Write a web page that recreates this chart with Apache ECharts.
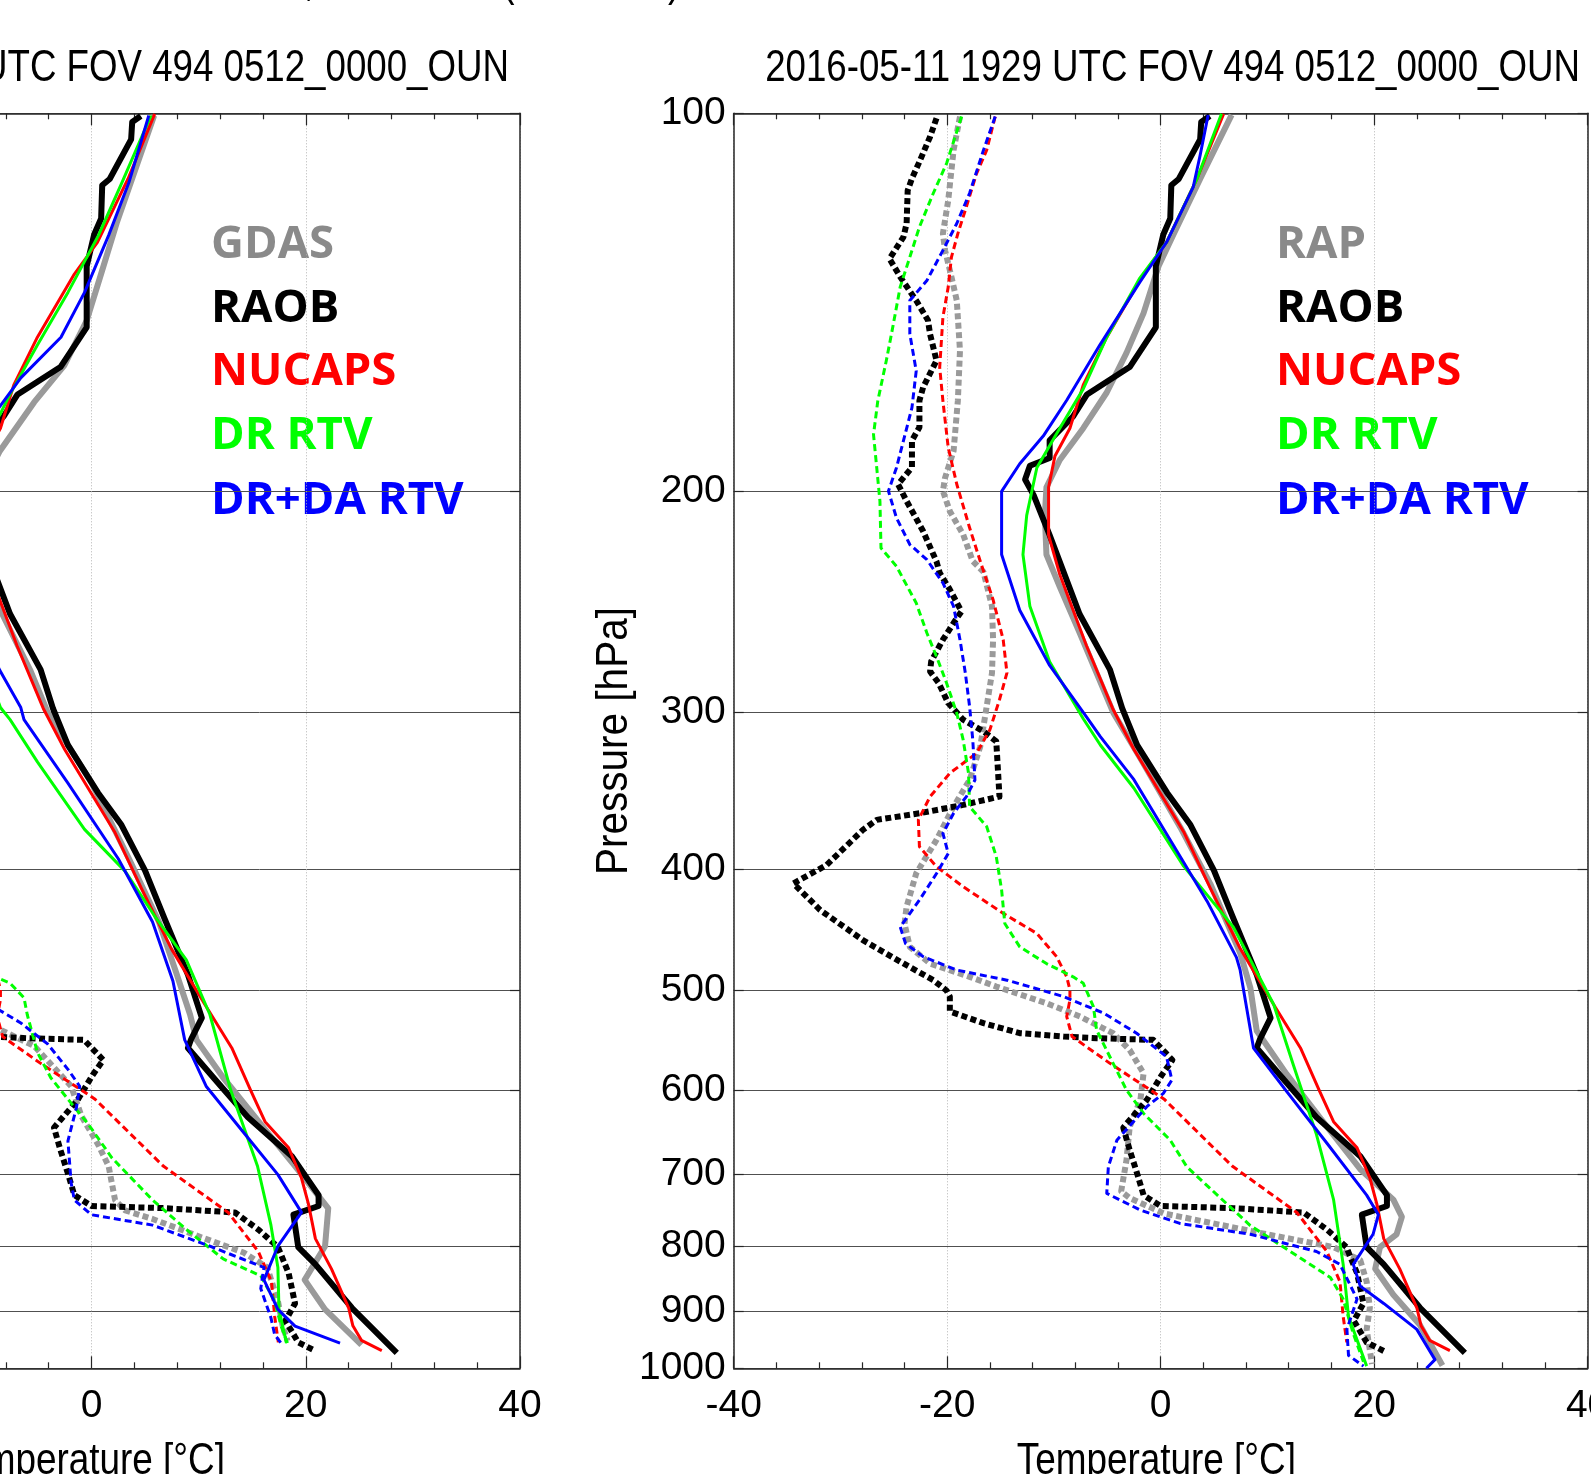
<!DOCTYPE html>
<html><head><meta charset="utf-8">
<script src="https://cdn.jsdelivr.net/npm/echarts@6/dist/echarts.min.js"></script>
<style>html,body{margin:0;padding:0;background:#fff;overflow:hidden}#c{width:1591px;height:1474px}</style>
</head><body><div id="c"></div>
<script>
// ---------- tick labels ----------
const P_TICKS = [100, 200, 300, 400, 500, 600, 700, 800, 900, 1000];
const T_MIN = -40, T_MAX = 40, T_STEP = 20;

// ---------- text ----------
const PANEL_TITLE = '2016-05-11 1929 UTC FOV 494 0512_0000_OUN';
const FIG_TITLE = 'Norman, Oklahoma (NUCAPS)';
const X_NAME = 'Temperature [°C]';
const Y_NAME = 'Pressure [hPa]';
const LEGEND_LEFT = ['GDAS', 'RAOB', 'NUCAPS', 'DR RTV', 'DR+DA RTV'];
const LEGEND_RIGHT = ['RAP', 'RAOB', 'NUCAPS', 'DR RTV', 'DR+DA RTV'];

// ---------- profiles: [temperature degC, pressure hPa] ----------
const RAOB_T = [[4.6,100.5],[3.8,101.6],[3.7,104.9],[1.7,112.8],[1.0,114.1],[0.9,121.3],[0.25,124.9],[-0.45,132.4],[-0.45,148.1],[-2.9,159.3],[-6.9,167.5],[-8.2,174.4],[-10.4,182.2],[-10.4,188.2],[-12.25,190.9],[-12.7,195.8],[-11.9,201.5],[-10.4,216.8],[-7.6,250.6],[-4.75,277.5],[-3.6,298],[-2.2,318.7],[0.6,347.8],[2.8,369.1],[5.0,401.2],[6.8,437.9],[9.0,485.6],[10.3,525.7],[9.3,546.8],[9.0,555.6],[11.8,592.2],[14.6,630.9],[18.7,677.6],[21.2,727.8],[21.2,742.5],[18.85,754.4],[19.3,800.6],[20.9,826.4],[24.3,894.9],[28.5,972]];
const RAOB_TD = [[-21,100.9],[-21.6,104.4],[-22.6,109.3],[-23.3,112.7],[-23.7,115.2],[-23.8,122.4],[-24.1,125.5],[-25.4,130.6],[-24.4,135],[-22.9,141],[-21.8,146.2],[-21.6,150],[-21.0,157.4],[-22.25,165.3],[-22.6,169.4],[-22.6,177.9],[-23.3,182.3],[-23.3,191.5],[-24.6,197.5],[-23.8,203.7],[-22.25,215.3],[-21.0,227.6],[-20.7,232.4],[-19.75,239.6],[-18.66,249.4],[-19.3,254],[-20.4,262.7],[-21.5,273.4],[-21.6,278.5],[-20.8,284.4],[-19.9,295.1],[-18.5,304.2],[-16.6,310.8],[-15.4,316.6],[-15.1,350.3],[-18.5,355.7],[-22.6,361.2],[-26.6,365.6],[-27.9,372.4],[-31.3,397.2],[-34.4,410.8],[-31.9,431.4],[-27.9,455.8],[-24.1,475.8],[-21.3,490.6],[-20.06,500],[-19.75,505.6],[-19.75,519.6],[-16.6,530.9],[-13.2,540.7],[-9.1,544.1],[-6.0,545.7],[-0.7,547.4],[1.1,568],[0.1,584],[-1.3,611.3],[-3.5,643],[-2.9,670],[-2.2,699.6],[-1.6,727.8],[0,742.5],[6.8,745.4],[13.4,751.4],[15.6,775.6],[17.4,800.6],[18.4,839.8],[19.0,887.8],[18.1,916.5],[19.3,953.5],[20.9,968.7]];
const NUCAPS_T = [[5.9,100.1],[3.4,112.8],[0.55,126.7],[-1.6,134.3],[-5.05,150.8],[-7.25,164.6],[-8.5,178.2],[-9.9,187.5],[-10.5,198.6],[-10.5,216.8],[-9.45,233.1],[-6.95,265.6],[-4.5,298],[-2.5,321.3],[2.15,373.6],[4.65,414.4],[7.45,463],[10.6,513.3],[13.1,555.6],[14.9,601.7],[16.2,636.1],[18.4,667.2],[19.6,705.3],[20.25,739.6],[20.9,788.3],[22.4,833.2],[24.0,894.9],[24.4,925],[25.2,950],[27.1,968]];
const NUCAPS_TD = [[-15.5,100.6],[-16.3,107],[-17.25,111.7],[-18.2,118.7],[-19.0,124.7],[-19.6,130.2],[-19.9,137.5],[-20.4,145.4],[-20.7,159.4],[-20.4,169.5],[-19.9,184.7],[-19.1,197.5],[-17.9,213.9],[-16.9,227.5],[-15.7,244.1],[-14.75,262.7],[-14.4,279.2],[-15.1,293.3],[-16.0,309.9],[-17.25,323.5],[-19.75,335.6],[-21.6,350.3],[-22.7,365.6],[-22.6,384],[-21.0,398.4],[-18.5,413.3],[-14.75,434],[-11.6,450.3],[-9.75,469.9],[-8.8,487.6],[-8.5,499.4],[-8.5,508.6],[-8.8,524.5],[-8.3,544.1],[-4.75,571.5],[0.3,610],[6.7,690],[12.76,751.4],[15.57,807.1],[16.8,853.1],[17.1,909.2],[17.44,953.5]];

const RAP_T = [[6.65,100.3],[3.7,112.8],[1.2,124.9],[-0.2,132.4],[-1.6,144.3],[-3.2,155.2],[-5.05,166.9],[-7.25,178.2],[-9.45,188.9],[-10.7,198.6],[-10.85,209],[-10.7,224.7],[-9.45,238.4],[-7.55,259.9],[-4.45,300.2],[-1.9,326.5],[1.85,370.7],[4.65,411.1],[7.45,466.7],[8.4,497.3],[9.0,538.3],[11.8,582.9],[14.9,631],[18.7,694],[21.8,733.8],[22.6,757.5],[22.1,782],[20.55,800.6],[20.1,833.2],[21.8,873.9],[24.3,923.8],[26.4,995]];
const RAP_TD = [[-18.8,100.6],[-19.4,107],[-19.9,117.3],[-20.4,124.7],[-20.2,128.6],[-19.6,135],[-19.1,141],[-18.8,154.6],[-19.0,169.5],[-19.4,185.8],[-20.2,195.2],[-20.4,200],[-19.75,207.5],[-18.5,216.6],[-17.6,227.5],[-16.6,232],[-15.8,247.1],[-15.7,262.7],[-15.8,279.2],[-16.3,296.9],[-16.9,319.6],[-17.9,339.8],[-19.4,356.8],[-21.0,379.3],[-22.9,403.3],[-23.8,428.7],[-24.0,442.2],[-23.5,461.5],[-21.6,475.9],[-17.9,487.6],[-15.4,496.4],[-10.7,511.8],[-7.55,524.5],[-4.45,540.8],[-2.9,557.6],[-1.6,582.1],[-1.9,611.3],[-2.9,642],[-3.2,682.5],[-3.7,722.8],[-2.9,731.7],[0.3,752.7],[6.5,771.3],[9.95,782],[16.2,800.6],[18.7,820],[19.3,853.1],[19.6,894.9],[19.3,931.1],[19.8,992]];
const DR_T_R = [[5.7,100.1],[3.4,112.8],[0.55,126.7],[-1.95,135.3],[-5.05,150.8],[-7.25,165.8],[-9.45,178.2],[-11.6,191.6],[-12.55,209.1],[-12.9,224.7],[-12.25,247.1],[-10.4,273.5],[-7.25,303.7],[-5.65,318.7],[-2.5,345],[2.15,398],[6.8,444.9],[10.6,513.3],[12.45,573.7],[14.6,651.3],[16.2,733.8],[17.1,826.4],[17.6,909.2],[19.3,996]];
const DR_TD_R = [[-18.65,100.6],[-20.05,109.6],[-21.3,115.8],[-22.6,123.2],[-23.5,130.2],[-24.4,137.5],[-25.1,148.1],[-25.7,157.4],[-26.5,169.5],[-26.9,180.3],[-26.6,191.6],[-26.3,203.7],[-26.2,222],[-24.75,229.6],[-22.9,245.6],[-21.9,259.5],[-21.0,270.9],[-20.05,284.5],[-19.1,300.6],[-18.5,315.7],[-18.0,335.6],[-17.9,356.8],[-16.3,370.1],[-15.4,391.1],[-14.9,415.8],[-14.6,442.2],[-13.2,461.5],[-10.7,475.9],[-8.2,487.6],[-7.25,493.4],[-6.3,515],[-6.0,537.6],[-4.45,571.5],[-3.2,600.2],[-1.6,626.5],[0.9,658],[2.45,690.9],[6.5,743.6],[8.4,769.6],[11.5,800.6],[15.9,846.4],[17.1,880.7],[18.05,938.5],[19.0,988]];
const DRDA_T_R = [[4.45,100.3],[3.7,108],[3.05,114.5],[0.55,126.7],[-1.95,136.3],[-5.7,153],[-8.8,169.3],[-11.0,180.8],[-13.2,190.2],[-14.9,200.1],[-14.9,224.7],[-13.2,248.9],[-10.4,275.4],[-6.95,302.6],[-5.65,313.8],[-2.5,339.6],[4.35,424.4],[7.1,470.5],[7.45,481.7],[8.7,555.6],[11.8,601.7],[15.6,662],[19.3,727.8],[20.4,754.4],[19.9,782],[18.05,826.4],[18.7,860],[20.9,887.8],[24.0,931.1],[25.7,984.2],[24.9,1000]];
const DRDA_TD_R = [[-15.5,100.6],[-16.6,107],[-17.9,115.8],[-19.1,122.4],[-20.4,128.6],[-21.9,135.9],[-23.5,141],[-23.5,149.9],[-22.9,160.4],[-23.3,171.6],[-24.1,182.4],[-24.75,191.6],[-25.5,200],[-24.75,210.1],[-23.5,220.6],[-21.9,226.8],[-20.4,236.7],[-19.4,247.1],[-18.8,262.7],[-18.3,279.2],[-17.9,296.9],[-17.6,315.7],[-17.4,339.8],[-18.2,350.3],[-19.4,361.2],[-20.4,374.8],[-19.9,388.8],[-21.0,403.4],[-22.6,423.6],[-24.4,444.9],[-23.9,458.7],[-22.25,469.9],[-19.1,481.6],[-14.4,490.6],[-9.1,505.6],[-5.3,521.4],[-2.25,540.8],[0.55,564.5],[1.05,589.2],[0.25,603.9],[-1.3,618.8],[-4.1,658],[-4.9,690.9],[-5.05,725.5],[-1.9,748.1],[1.8,766.6],[8.4,782],[14.6,807.1],[16.8,826.4],[18.4,880.7],[17.45,931.1],[17.6,976.5],[19.0,996]];

const GDAS_T = [[5.85,100.4],[2.35,122.3],[0.95,133.8],[-0.45,146.3],[-2.55,158.9],[-5.35,169.9],[-8.55,185.8],[-10.5,200],[-11,215],[-10.5,232],[-8.5,249],[-5.7,278],[-4.1,300],[0,341.7],[3.5,392.6],[6.3,440.9],[7.9,483.7],[9.2,522.5],[9.8,547.4],[12.3,586.8],[15.8,639],[19.0,690.2],[22.1,745.7],[21.8,799.3],[19.9,850.2],[21.8,897.5],[25.2,958]];
const GDAS_TD = [[-18.8,100.6],[-19.9,117.3],[-20.4,124.7],[-19.1,141],[-18.8,154.6],[-19.4,185.8],[-20.4,200],[-17.6,227.5],[-15.8,247.1],[-15.7,262.7],[-16.3,296.9],[-17.9,339.8],[-21.0,379.3],[-23.8,428.7],[-23.5,461.5],[-17.9,487.6],[-12,510],[-8.55,537],[-5.35,553.6],[-1.9,596],[-0.95,629.2],[0.65,664],[1.6,690.2],[2.2,734.4],[3.15,748.6],[5.7,760.3],[10.4,787.2],[14.2,808.6],[16.4,831],[17.4,883.8],[17.85,925.5],[18.3,951]];
const DR_T_L = [[5.55,100.4],[2.85,113.5],[0.65,125.1],[-2.2,138.9],[-5.05,153],[-7.6,167.4],[-8.55,173.8],[-10.5,185],[-12,200],[-12.5,225],[-11,260],[-8.5,297.5],[-7.6,304.2],[-5.05,328.7],[-0.65,372],[3.15,401.8],[6.0,437.5],[8.85,472.6],[11.05,522.5],[13.0,600.5],[15.5,690.2],[16.75,769],[17.4,831],[17.5,897.5],[18.2,954.8]];
const DR_TD_L = [[-18.65,100.6],[-21.3,115.8],[-23.5,130.2],[-25.1,148.1],[-26.5,169.5],[-26.9,180.3],[-26.3,203.7],[-26.2,222],[-22.9,245.6],[-21.0,270.9],[-19.1,300.6],[-18.0,335.6],[-17.9,356.8],[-15.4,391.1],[-14.6,442.2],[-13.2,461.5],[-10.7,478],[-8.55,489.5],[-7.6,493.3],[-6.3,506.7],[-6.0,522.5],[-5.05,560.1],[-3.8,586.8],[-1.9,614.8],[-0.3,639],[1.9,679.6],[5.7,734.4],[8.85,775.1],[12.3,818.2],[15.8,843.9],[17.1,883.8],[17.7,925.5],[18.3,954.8]];
const DRDA_T_L = [[5.35,100.4],[3.5,113.5],[1.6,125.1],[-0.65,138.9],[-2.85,150.8],[-6.6,162.5],[-8.55,171.2],[-10.5,180],[-13,200],[-13,225],[-11,250],[-8.55,278],[-6.6,297.5],[-6.3,304.2],[-2.2,341.7],[2.5,392.6],[5.7,440.9],[7.6,491.3],[8.7,547.4],[10.7,596],[14.2,648.8],[17.4,700.9],[19.6,751.2],[17.4,799.3],[16.1,850.2],[17.4,897.5],[19.0,925.5],[23.2,954.8]];
const DRDA_TD_L = [[-15.5,100.6],[-17.9,115.8],[-20.4,128.6],[-23.5,141],[-23.5,149.9],[-22.9,160.4],[-24.1,182.4],[-25.5,200],[-23.5,220.6],[-20.4,236.7],[-18.8,262.7],[-17.9,296.9],[-17.4,339.8],[-19.4,361.2],[-20.4,374.8],[-21.0,403.4],[-24.4,444.9],[-22.25,469.9],[-14.4,490.6],[-11,505],[-8.55,518.6],[-6.6,530.7],[-4.1,551.5],[-2.2,577.8],[-1.1,596],[-1.4,619.4],[-2.2,659],[-1.9,711.9],[-1.6,734.4],[0,754.5],[5.7,769],[11.05,799.3],[16.1,831],[15.8,863.9],[16.75,911.5],[17.1,940.2],[17.7,954.8]];

// ---------- styles ----------
const FONT_A = "'Liberation Sans', Arial, sans-serif";
const FONT_LEG = "'Open Sans', 'Noto Sans', sans-serif";
const AX = '#262626';
const C = { bg: '#9a9a9a', raob: '#000000', nucaps: '#ff0000', dr: '#00ff00', drda: '#0000ff' };
const LEG_COLORS = ['#8a8a8a', '#000000', '#ff0000', '#00ff00', '#0000ff'];

const GRIDS = [
  { left: -337, top: 113.3, width: 857, height: 1255 },
  { left: 733.7, top: 113.3, width: 853.9, height: 1255 }
];

const logTicks = P_TICKS.map(p => Math.log10(p));
function prof(arr) { return arr.map(d => [d[0], Math.log10(d[1])]); }

function xAxes(gi) {
  const base = {
    type: 'value', gridIndex: gi, min: T_MIN, max: T_MAX, interval: T_STEP,
    axisLine: { show: true, onZero: false, lineStyle: { color: AX, width: 1.5 } },
    axisTick: { show: true, inside: true, length: 12, lineStyle: { color: AX, width: 1.2 } },
    minorTick: { show: true, splitNumber: 5, length: 6, lineStyle: { color: AX, width: 1.2 } }
  };
  return [
    Object.assign({}, base, {
      position: 'bottom',
      axisLabel: { show: true, fontSize: 39, fontFamily: FONT_A, color: '#000', margin: 18 },
      splitLine: { show: true, lineStyle: { color: '#b4b4b4', width: 1, type: [1, 2] } }
    }),
    Object.assign({}, base, {
      position: 'top', axisLabel: { show: false }, splitLine: { show: false }
    })
  ];
}
function yAxes(gi) {
  const base = {
    type: 'value', gridIndex: gi, min: 2, max: 3, inverse: true,
    axisLine: { show: true, onZero: false, lineStyle: { color: AX, width: 1.5 } },
    axisTick: { show: true, inside: true, length: 10, customValues: logTicks, lineStyle: { color: AX, width: 1.2 } }
  };
  return [
    Object.assign({}, base, {
      position: 'left',
      axisLabel: { show: true, customValues: logTicks, fontSize: 39, fontFamily: FONT_A, color: '#000', margin: 8,
        padding: [5, 0, 0, 0], formatter: v => String(Math.round(Math.pow(10, v))) },
      splitLine: { show: true, lineStyle: { color: '#505050', width: 1 } }
    }),
    Object.assign({}, base, {
      position: 'right', axisLabel: { show: false }, splitLine: { show: false }
    })
  ];
}

function line(name, data, gi, color, width, dash) {
  return {
    type: 'line', name: name, data: prof(data),
    xAxisIndex: gi * 2, yAxisIndex: gi * 2,
    symbol: 'none', showSymbol: false, silent: true, animation: false,
    lineStyle: { color: color, width: width, type: dash || 'solid', cap: 'butt', join: 'round' }
  };
}
const DOT = [6, 3.5], DASH = [7, 4];
function panelSeries(gi, bgName, bgT, bgTd, drT, drTd, ddT, ddTd) {
  return [
    line(bgName + ' T', bgT, gi, C.bg, 6),
    line(bgName + ' Td', bgTd, gi, C.bg, 6, DOT),
    line('RAOB T', RAOB_T, gi, C.raob, 6),
    line('RAOB Td', RAOB_TD, gi, C.raob, 6, DOT),
    line('NUCAPS T', NUCAPS_T, gi, C.nucaps, 3),
    line('NUCAPS Td', NUCAPS_TD, gi, C.nucaps, 3, DASH),
    line('DR RTV T', drT, gi, C.dr, 3),
    line('DR RTV Td', drTd, gi, C.dr, 3, DASH),
    line('DR+DA RTV T', ddT, gi, C.drda, 3),
    line('DR+DA RTV Td', ddTd, gi, C.drda, 3, DASH)
  ];
}

function txt(text, x, y, font, color, align, valign, opts) {
  return Object.assign({ type: 'text', x: x, y: y, silent: true,
    style: { text: text, font: font, fill: color, textAlign: align, align: align,
      textVerticalAlign: valign, verticalAlign: valign } }, opts || {});
}
const NARROW = { scaleX: 0.82 };
const legendYs = [245.5, 309, 372.5, 436.5, 501];
const graphics = [];
// figure title (only its descenders lie inside the picture)
graphics.push(txt(FIG_TITLE, 173, -18, "46px " + FONT_A, '#000', 'left', 'middle', { scaleX: 0.8 }));
// panel titles
graphics.push(txt(PANEL_TITLE, 509, 69, "45px " + FONT_A, '#000', 'right', 'middle', { scaleX: 0.815 }));
graphics.push(txt(PANEL_TITLE, 1580, 69, "45px " + FONT_A, '#000', 'right', 'middle', { scaleX: 0.815 }));
// axis names
graphics.push(txt(X_NAME, 225, 1462, "45px " + FONT_A, '#000', 'right', 'middle', NARROW));
graphics.push(txt(X_NAME, 1296, 1462, "45px " + FONT_A, '#000', 'right', 'middle', NARROW));
graphics.push(txt(Y_NAME, -456, 741, "45px " + FONT_A, '#000', 'center', 'middle', { rotation: Math.PI / 2, scaleX: 0.9 }));
graphics.push(txt(Y_NAME, 614.5, 741, "45px " + FONT_A, '#000', 'center', 'middle', { rotation: Math.PI / 2, scaleX: 0.9 }));
// legends
LEGEND_LEFT.forEach((t, i) => graphics.push(txt(t, 211, legendYs[i], "bold 45.5px " + FONT_LEG, LEG_COLORS[i], 'left', 'middle')));
LEGEND_RIGHT.forEach((t, i) => graphics.push(txt(t, 1276, legendYs[i], "bold 45.5px " + FONT_LEG, LEG_COLORS[i], 'left', 'middle')));

const option = {
  backgroundColor: '#ffffff',
  animation: false,
  grid: GRIDS.map(g => Object.assign({ containLabel: false, outerBoundsMode: 'none', show: false }, g)),
  xAxis: xAxes(0).concat(xAxes(1)),
  yAxis: yAxes(0).concat(yAxes(1)),
  series: panelSeries(0, 'GDAS', GDAS_T, GDAS_TD, DR_T_L, DR_TD_L, DRDA_T_L, DRDA_TD_L)
    .concat(panelSeries(1, 'RAP', RAP_T, RAP_TD, DR_T_R, DR_TD_R, DRDA_T_R, DRDA_TD_R)),
  graphic: { elements: graphics }
};

const chart = echarts.init(document.getElementById('c'), null, { renderer: 'canvas', width: 1591, height: 1474 });
chart.setOption(option);
</script></body></html>
